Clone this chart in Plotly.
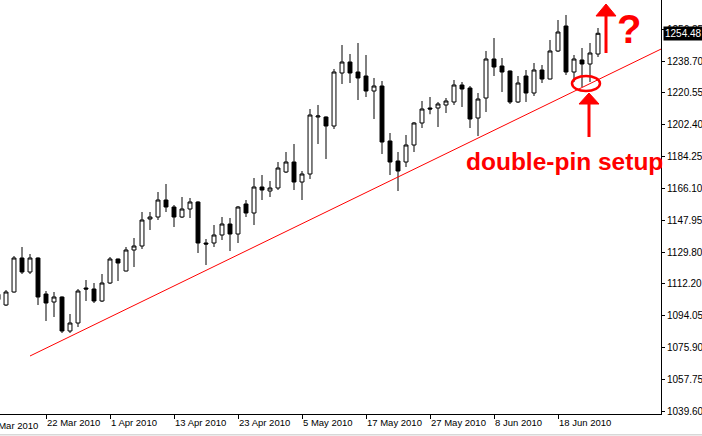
import plotly.graph_objects as go

# ---------------- data ----------------
dates = [
    "2010-03-12",
    "2010-03-15", "2010-03-16", "2010-03-17", "2010-03-18", "2010-03-19",
    "2010-03-22", "2010-03-23", "2010-03-24", "2010-03-25", "2010-03-26",
    "2010-03-29", "2010-03-30", "2010-03-31", "2010-04-01", "2010-04-02",
    "2010-04-05", "2010-04-06", "2010-04-07", "2010-04-08", "2010-04-09",
    "2010-04-12", "2010-04-13", "2010-04-14", "2010-04-15", "2010-04-16",
    "2010-04-19", "2010-04-20", "2010-04-21", "2010-04-22", "2010-04-23",
    "2010-04-26", "2010-04-27", "2010-04-28", "2010-04-29", "2010-04-30",
    "2010-05-03", "2010-05-04", "2010-05-05", "2010-05-06", "2010-05-07",
    "2010-05-10", "2010-05-11", "2010-05-12", "2010-05-13", "2010-05-14",
    "2010-05-17", "2010-05-18", "2010-05-19", "2010-05-20", "2010-05-21",
    "2010-05-24", "2010-05-25", "2010-05-26", "2010-05-27", "2010-05-28",
    "2010-05-31", "2010-06-01", "2010-06-02", "2010-06-03", "2010-06-04",
    "2010-06-07", "2010-06-08", "2010-06-09", "2010-06-10", "2010-06-11",
    "2010-06-14", "2010-06-15", "2010-06-16", "2010-06-17", "2010-06-18",
    "2010-06-21", "2010-06-22", "2010-06-23", "2010-06-24", "2010-06-25",
]

open_ = [
    1103.0,
    1099.91, 1107.30, 1126.64, 1118.68, 1126.64,
    1106.16, 1101.61, 1104.46, 1085.11, 1089.67,
    1109.58, 1109.01, 1102.18, 1112.42, 1126.07,
    1119.25, 1131.19, 1133.47, 1148.83, 1149.97,
    1159.64, 1155.66, 1149.97, 1154.52, 1158.51,
    1135.18, 1135.18, 1139.73, 1145.99, 1140.30,
    1157.37, 1152.24, 1167.04, 1164.76, 1166.47,
    1175.57, 1181.26, 1169.88, 1174.43, 1206.86,
    1206.86, 1201.74, 1231.89, 1238.15, 1232.46,
    1230.18, 1221.65, 1224.49, 1193.21, 1181.83,
    1181.26, 1190.93, 1203.45, 1211.98, 1211.98,
    1213.69, 1215.40, 1225.06, 1223.36, 1206.29,
    1217.67, 1239.85, 1235.87, 1233.03, 1215.40,
    1230.18, 1220.51, 1233.60, 1228.48, 1244.41,
    1258.63, 1232.46, 1239.29, 1237.01, 1242.70,
]
high = [
    1109.0,
    1108.44, 1127.78, 1132.90, 1128.92, 1127.00,
    1107.87, 1107.30, 1104.80, 1094.79, 1109.01,
    1114.13, 1112.42, 1117.54, 1127.21, 1126.30,
    1132.90, 1138.02, 1152.81, 1152.81, 1164.19,
    1168.74, 1156.80, 1161.35, 1160.78, 1158.90,
    1137.45, 1145.42, 1149.97, 1149.40, 1156.23,
    1159.64, 1172.16, 1173.86, 1170.45, 1181.26,
    1186.95, 1191.50, 1176.14, 1211.41, 1213.69,
    1207.20, 1234.17, 1247.82, 1242.70, 1248.96,
    1242.13, 1229.05, 1227.34, 1197.76, 1186.95,
    1196.62, 1204.01, 1215.96, 1218.24, 1215.40,
    1217.67, 1227.91, 1226.77, 1224.49, 1220.51,
    1244.41, 1251.80, 1240.42, 1233.30, 1230.18,
    1233.60, 1237.58, 1236.44, 1250.67, 1262.04,
    1264.89, 1242.13, 1246.11, 1248.96, 1257.49,
]
low = [
    1100.0,
    1099.34, 1106.90, 1117.54, 1117.54, 1099.91,
    1090.80, 1093.08, 1083.97, 1083.97, 1087.40,
    1102.18, 1101.04, 1101.61, 1111.85, 1113.56,
    1119.00, 1121.52, 1131.76, 1142.57, 1148.26,
    1152.81, 1144.28, 1149.40, 1149.40, 1129.49,
    1122.66, 1132.90, 1136.88, 1130.62, 1135.18,
    1149.97, 1145.42, 1159.64, 1161.35, 1165.33,
    1175.00, 1165.33, 1159.64, 1171.59, 1191.50,
    1182.96, 1200.03, 1225.63, 1226.20, 1216.53,
    1218.24, 1205.72, 1185.81, 1173.86, 1164.76,
    1178.41, 1186.95, 1200.60, 1208.44, 1201.17,
    1209.13, 1213.69, 1212.55, 1200.60, 1196.05,
    1209.70, 1230.18, 1221.08, 1214.27, 1214.83,
    1215.40, 1218.81, 1226.20, 1228.30, 1243.84,
    1230.75, 1226.77, 1223.92, 1226.77, 1241.00,
]
close = [
    1106.0,
    1107.30, 1126.64, 1118.68, 1126.64, 1104.46,
    1101.04, 1104.46, 1085.11, 1089.67, 1107.87,
    1109.01, 1102.18, 1112.42, 1126.07, 1123.80,
    1131.19, 1133.47, 1148.26, 1149.97, 1159.64,
    1155.66, 1149.97, 1154.52, 1158.51, 1135.18,
    1134.61, 1139.73, 1145.99, 1140.30, 1155.66,
    1152.24, 1167.04, 1165.33, 1166.47, 1177.84,
    1181.26, 1169.88, 1174.43, 1208.00, 1207.43,
    1201.74, 1232.46, 1238.15, 1231.89, 1229.05,
    1221.65, 1224.49, 1192.64, 1181.26, 1176.14,
    1190.93, 1203.45, 1211.41, 1211.41, 1214.27,
    1215.96, 1225.06, 1222.79, 1205.72, 1217.10,
    1239.85, 1235.30, 1232.46, 1215.40, 1226.20,
    1220.51, 1233.60, 1228.48, 1244.41, 1255.21,
    1232.46, 1239.85, 1237.01, 1243.27, 1254.48,
]

tick_dates = ["2010-03-22", "2010-04-01", "2010-04-13", "2010-04-23", "2010-05-05",
              "2010-05-17", "2010-05-27", "2010-06-08", "2010-06-18"]
tick_text = ["22 Mar 2010", "1 Apr 2010", "13 Apr 2010", "23 Apr 2010", "5 May 2010",
             "17 May 2010", "27 May 2010", "8 Jun 2010", "18 Jun 2010"]
first_label = "10 Mar 2010"   # partly cut off at the left edge
y_ticks = [1039.60, 1057.75, 1075.90, 1094.05, 1112.20, 1129.80, 1147.95,
           1166.10, 1184.25, 1202.40, 1220.55, 1238.70, 1256.85]
y_tick_text = ["%.2f" % v for v in y_ticks]

trend_start = (4.0, 1070.9)     # (category index, price)
trend_end = (82.875, 1245.5)
last_price = 1254.48

# ---------------- figure ----------------
W, H = 702, 436
ML, MR, MT, MB = 0, 41, 0, 22
PW, PH = W - ML - MR, H - MT - MB


def px(xp):
    return xp / PW


def py(yp):
    return 1 - yp / PH


FONT = "Liberation Sans, Arial, sans-serif"
TICK_SIZE = 9.5

fig = go.Figure()
fig.add_trace(go.Candlestick(
    x=dates, open=open_, high=high, low=low, close=close,
    increasing=dict(line=dict(color="black", width=1), fillcolor="white"),
    decreasing=dict(line=dict(color="black", width=1), fillcolor="black"),
    whiskerwidth=0, hoverinfo="skip", showlegend=False,
))

shapes = [
    # trend line
    dict(type="line", xref="x", yref="y", x0=trend_start[0], y0=trend_start[1],
         x1=trend_end[0], y1=trend_end[1], line=dict(color="#ff0000", width=1)),
    # ellipse
    dict(type="circle", xref="paper", yref="paper", x0=px(572), x1=px(600),
         y0=py(91), y1=py(76), line=dict(color="#ff0000", width=2.5)),
    # arrow under ellipse
    dict(type="line", xref="paper", yref="paper", x0=px(589), x1=px(589),
         y0=py(137), y1=py(102), line=dict(color="#ff0000", width=3)),
    dict(type="path", xref="paper", yref="paper",
         path="M %f %f L %f %f L %f %f Z" % (px(579), py(104), px(589), py(93), px(599), py(104)),
         fillcolor="#ff0000", line=dict(color="#ff0000", width=1)),
    # upward arrow top right
    dict(type="line", xref="paper", yref="paper", x0=px(606), x1=px(606),
         y0=py(53), y1=py(14), line=dict(color="#ff0000", width=3)),
    dict(type="path", xref="paper", yref="paper",
         path="M %f %f L %f %f L %f %f Z" % (px(596), py(16), px(606), py(4), px(616), py(16)),
         fillcolor="#ff0000", line=dict(color="#ff0000", width=1)),
    # bottom window strip
    dict(type="rect", xref="paper", yref="paper", x0=0, x1=(W - ML) / PW,
         y0=-(MB - 0.5) / PH, y1=-(MB - 2) / PH, fillcolor="#d8d8d8", line=dict(width=0), layer="below"),
]

annotations = [
    dict(xref="paper", yref="paper", x=px(464), y=py(162), xanchor="left", yanchor="middle",
         text="<b>double-pin setup</b>", showarrow=False,
         font=dict(family=FONT, size=24.5, color="#ff0000")),
    dict(xref="paper", yref="paper", x=px(629), y=py(29), xanchor="center", yanchor="middle",
         text="<b>?</b>", showarrow=False,
         font=dict(family=FONT, size=40, color="#ff0000")),
    dict(xref="paper", yref="y", x=1 + 1.5 / PW, y=last_price, xanchor="left", yanchor="middle",
         text=f"{last_price:.2f}", showarrow=False, bgcolor="black", borderpad=1,
         font=dict(family=FONT, size=10, color="white")),
    dict(xref="paper", yref="paper", x=px(-18 + 1), y=0, xanchor="left", yanchor="top", yshift=-4,
         text=first_label, showarrow=False,
         font=dict(family=FONT, size=TICK_SIZE, color="black")),
]

fig.update_layout(
    width=W, height=H,
    margin=dict(l=ML, r=MR, t=MT, b=MB, pad=0, autoexpand=False),
    paper_bgcolor="white", plot_bgcolor="white",
    showlegend=False, hovermode=False,
    font=dict(family=FONT, size=10, color="black"),
    shapes=shapes, annotations=annotations,
    xaxis=dict(
        type="category", categoryorder="array", categoryarray=dates,
        range=[0.25, 82.875], rangeslider=dict(visible=False),
        showgrid=False, zeroline=False,
        showline=True, linecolor="black", linewidth=1,
        tickmode="array", tickvals=tick_dates, ticktext=tick_text,
        ticks="outside", ticklen=4, tickcolor="black", tickwidth=1,
        ticklabelposition="outside right", tickangle=0, automargin=False,
        tickfont=dict(family=FONT, size=TICK_SIZE, color="black"),
        fixedrange=True,
    ),
    yaxis=dict(
        side="right", range=[1037.90, 1273.42],
        showgrid=False, zeroline=False, automargin=False,
        showline=True, linecolor="black", linewidth=1,
        tickmode="array", tickvals=y_ticks, ticktext=y_tick_text,
        ticks="outside", ticklen=3, tickcolor="black", tickwidth=1,
        tickfont=dict(family=FONT, size=10, color="black"),
        fixedrange=True,
    ),
)

fig.write_html("out.html", config=dict(displayModeBar=False, staticPlot=True))
